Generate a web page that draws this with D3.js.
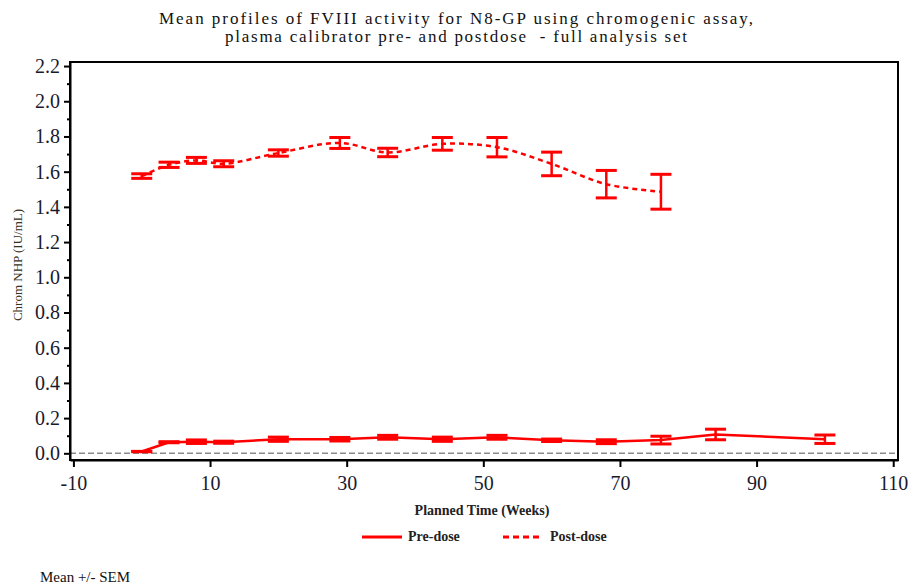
<!DOCTYPE html>
<html>
<head>
<meta charset="utf-8">
<script src="https://cdn.jsdelivr.net/npm/d3@7"></script>
<style>
  html, body { margin: 0; padding: 0; background: #fff; }
  svg { display: block; }
</style>
</head>
<body>
<svg id="chart" width="910" height="588"></svg>
<script>
// ---- Data ----
const titleLines = [
  "Mean profiles of FVIII activity for N8-GP using chromogenic assay,",
  "plasma calibrator pre- and postdose  - full analysis set"
];
const xLabel = "Planned Time (Weeks)";
const yLabel = "Chrom NHP (IU/mL)";
const footnote = "Mean +/- SEM";
const seriesNames = ["Pre-dose", "Post-dose"];

const xTicks = [-10, 10, 30, 50, 70, 90, 110];
const yTicks = [0.0, 0.2, 0.4, 0.6, 0.8, 1.0, 1.2, 1.4, 1.6, 1.8, 2.0, 2.2];
const yMinorTicks = [0.1, 0.3, 0.5, 0.7, 0.9, 1.1, 1.3, 1.5, 1.7, 1.9, 2.1];

const preWeeks = [0, 4, 8, 12, 20, 29, 36, 44, 52, 60, 68, 76, 84, 100];
const preMean  = [0.010, 0.063, 0.066, 0.063, 0.080, 0.080, 0.091, 0.080, 0.091, 0.074, 0.066, 0.075, 0.107, 0.080];
const preSem   = [0.001, 0.003, 0.010, 0.006, 0.012, 0.010, 0.011, 0.012, 0.011, 0.007, 0.011, 0.022, 0.030, 0.024];

const postWeeks = [0, 4, 8, 12, 20, 29, 36, 44, 52, 60, 68, 76];
const postMean  = [1.575, 1.639, 1.664, 1.645, 1.706, 1.763, 1.709, 1.758, 1.739, 1.644, 1.529, 1.486];
const postSem   = [0.013, 0.015, 0.017, 0.017, 0.018, 0.031, 0.024, 0.036, 0.055, 0.067, 0.078, 0.099];

const refLineValue = 0.0;

// ---- Layout ----
const SERIF = "'Liberation Serif', 'Times New Roman', 'DejaVu Serif', serif";
const svg = d3.select("#chart");
const plot = { left: 70, right: 898, top: 62, bottom: 460 };
const x = d3.scaleLinear().domain([-10.5, 110.7]).range([plot.left, plot.right]);
const y = d3.scaleLinear().domain([-0.038, 2.223]).range([plot.bottom, plot.top]);
const red = "#ff0000";
const ink = "#1a1a2e";

// Title
const titleWidths = [594, 462];
svg.append("g").selectAll("text").data(titleLines).join("text")
  .attr("x", 456).attr("y", (d, i) => 24 + i * 18)
  .attr("text-anchor", "middle")
  .style("white-space", "pre")
  .style("font-family", SERIF)
  .attr("font-size", 17).attr("fill", "#111")
  .attr("textLength", (d, i) => titleWidths[i])
  .attr("lengthAdjust", "spacing")
  .text(d => d);

// Reference line
svg.append("line")
  .attr("x1", plot.left).attr("x2", plot.right)
  .attr("y1", y(refLineValue)).attr("y2", y(refLineValue))
  .attr("stroke", "#8c8c8c").attr("stroke-width", 1.5)
  .attr("stroke-dasharray", "6,3");

// Frame
svg.append("rect")
  .attr("x", plot.left).attr("y", plot.top)
  .attr("width", plot.right - plot.left).attr("height", plot.bottom - plot.top)
  .attr("fill", "none").attr("stroke", "#000").attr("stroke-width", 2);

// X axis
const xAxis = svg.append("g").attr("transform", `translate(0,${plot.bottom})`)
  .call(d3.axisBottom(x).tickValues(xTicks).tickSize(7).tickSizeOuter(0).tickPadding(9).tickFormat(d => String(d)));
xAxis.select(".domain").attr("stroke", "#000").attr("stroke-width", 2);
xAxis.selectAll(".tick line").attr("stroke", "#000").attr("stroke-width", 2);
xAxis.selectAll(".tick text").attr("font-size", 20).attr("fill", ink)
  .style("font-family", SERIF);

// Y axis
const yAxis = svg.append("g").attr("transform", `translate(${plot.left},0)`)
  .call(d3.axisLeft(y).tickValues(yTicks).tickSize(6).tickSizeOuter(0).tickPadding(4).tickFormat(d => d.toFixed(1)));
yAxis.select(".domain").attr("stroke", "#000").attr("stroke-width", 2);
yAxis.selectAll(".tick line").attr("stroke", "#000").attr("stroke-width", 2);
yAxis.selectAll(".tick text").attr("font-size", 20).attr("fill", ink)
  .style("font-family", SERIF);
svg.append("g").attr("transform", `translate(${plot.left},0)`)
  .call(d3.axisLeft(y).tickValues(yMinorTicks).tickSize(3).tickSizeOuter(0).tickFormat(""))
  .call(g => g.select(".domain").remove())
  .call(g => g.selectAll(".tick line").attr("stroke", "#000").attr("stroke-width", 2));

// Axis titles
svg.append("text")
  .attr("x", 482).attr("y", 515)
  .attr("text-anchor", "middle").attr("font-size", 14).attr("font-weight", "bold")
  .style("font-family", SERIF)
  .attr("fill", "#222").text(xLabel);
svg.append("text")
  .attr("transform", `translate(22,265) rotate(-90)`)
  .attr("text-anchor", "middle").attr("font-size", 13)
  .style("font-family", SERIF)
  .attr("fill", "#3a2e20").text(yLabel);

// Series
const pre = preWeeks.map((w, i) => ({ w, m: preMean[i], s: preSem[i] }));
const post = postWeeks.map((w, i) => ({ w, m: postMean[i], s: postSem[i] }));

svg.append("path").datum(pre)
  .attr("fill", "none").attr("stroke", red).attr("stroke-width", 2.5)
  .attr("d", d3.line().x(d => x(d.w)).y(d => y(d.m)));

svg.append("path").datum(post)
  .attr("fill", "none").attr("stroke", red).attr("stroke-width", 2.5)
  .attr("stroke-dasharray", "5,4")
  .attr("d", d3.line().curve(d3.curveCatmullRom.alpha(0.5)).x(d => x(d.w)).y(d => y(d.m)));

function errorBars(data) {
  const g = svg.append("g").attr("stroke", red).attr("fill", "none");
  const cap = 10.5;
  g.selectAll("line.v").data(data).join("line").attr("class", "v")
    .attr("x1", d => x(d.w)).attr("x2", d => x(d.w))
    .attr("y1", d => y(d.m - d.s)).attr("y2", d => y(d.m + d.s))
    .attr("stroke-width", 2.5);
  g.selectAll("line.t").data(data).join("line").attr("class", "t")
    .attr("x1", d => x(d.w) - cap).attr("x2", d => x(d.w) + cap)
    .attr("y1", d => y(d.m + d.s)).attr("y2", d => y(d.m + d.s))
    .attr("stroke-width", 3);
  g.selectAll("line.b").data(data).join("line").attr("class", "b")
    .attr("x1", d => x(d.w) - cap).attr("x2", d => x(d.w) + cap)
    .attr("y1", d => y(d.m - d.s)).attr("y2", d => y(d.m - d.s))
    .attr("stroke-width", 3);
}
errorBars(pre);
errorBars(post);

// Legend
const legend = svg.append("g");
legend.append("line").attr("x1", 362).attr("x2", 402).attr("y1", 537).attr("y2", 537)
  .attr("stroke", red).attr("stroke-width", 3);
legend.append("text").attr("x", 408).attr("y", 541).attr("font-size", 14).attr("font-weight", "bold")
  .style("font-family", SERIF)
  .attr("fill", "#222").text(seriesNames[0]);
legend.append("line").attr("x1", 503).attr("x2", 539).attr("y1", 537).attr("y2", 537)
  .attr("stroke", red).attr("stroke-width", 3).attr("stroke-dasharray", "6,4");
legend.append("text").attr("x", 550).attr("y", 541).attr("font-size", 14).attr("font-weight", "bold")
  .style("font-family", SERIF)
  .attr("fill", "#222").text(seriesNames[1]);

// Footnote
svg.append("text").attr("x", 40).attr("y", 582).attr("font-size", 15)
  .style("font-family", SERIF)
  .attr("fill", "#111").text(footnote);
</script>
</body>
</html>
